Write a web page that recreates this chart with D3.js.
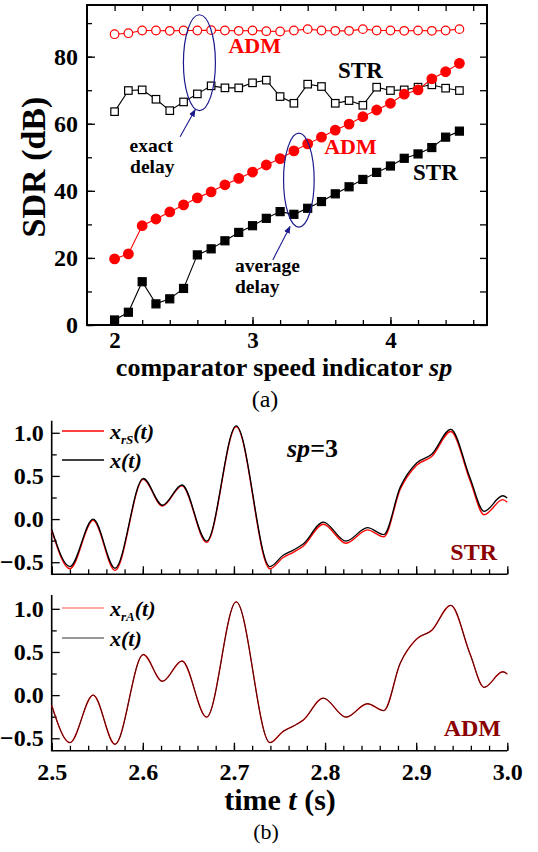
<!DOCTYPE html>
<html>
<head>
<meta charset="utf-8">
<script src="https://cdn.jsdelivr.net/npm/d3@7"></script>
<style>
    body { margin: 0; background: #fff; }
    svg { display: block; }
</style>
</head>
<body>
<svg id="fig" width="538" height="852"></svg>
<script>
// ---------- data, panel (a) ----------
const spVals = [2.0, 2.1, 2.2, 2.3, 2.4, 2.5, 2.6, 2.7, 2.8, 2.9, 3.0, 3.1, 3.2,
                3.3, 3.4, 3.5, 3.6, 3.7, 3.8, 3.9, 4.0, 4.1, 4.2, 4.3, 4.4, 4.5];
const admExact = [86.7, 87.0, 87.8, 87.8, 87.7, 87.8, 87.8, 87.9, 87.8, 87.7, 87.8, 87.6, 87.5,
                  87.8, 88.2, 87.8, 87.7, 87.7, 88.2, 87.8, 87.8, 87.7, 87.8, 87.7, 87.8, 88.2];
const strExact = [63.6, 69.9, 70.1, 67.3, 63.9, 66.5, 68.9, 71.3, 70.7, 70.7, 72.2, 73.0, 68.1,
                  66.1, 71.8, 71.1, 66.1, 66.9, 65.5, 70.9, 69.9, 70.1, 70.9, 71.6, 70.6, 69.9];
const admAvg = [19.7, 21.2, 29.6, 31.6, 33.7, 35.8, 37.9, 39.7, 41.8, 43.7, 45.6, 47.7, 49.6,
                51.9, 54.0, 56.0, 58.1, 59.9, 62.1, 64.1, 66.1, 68.8, 70.1, 73.4, 75.5, 78.0];
const strAvg = [1.5, 3.8, 12.9, 6.3, 7.8, 10.9, 20.9, 22.7, 25.1, 27.6, 29.6, 31.8, 33.8,
                33.0, 34.8, 36.8, 39.1, 41.2, 43.4, 45.5, 47.4, 49.7, 51.0, 52.9, 56.0, 57.8];
const sdrTicks = [0, 20, 40, 60, 80];
const spTicks = [2, 3, 4];

// ---------- data, panel (b) ----------
const tVals = [2.500, 2.520, 2.5455, 2.5695, 2.6005, 2.6215, 2.643, 2.670, 2.7025, 2.7395,
               2.754, 2.765, 2.776, 2.798, 2.823, 2.8465, 2.8645, 2.8825, 2.9005, 2.917,
               2.938, 2.959, 2.9745, 2.995, 3.000];
const xOrig = [-0.12, -0.55, 0.00, -0.57, 0.47, 0.16, 0.395, -0.255, 1.08, -0.55,
               -0.42, -0.36, -0.29, -0.035, -0.255, -0.10, -0.18, 0.37, 0.65, 0.75,
               1.04, 0.48, 0.09, 0.27, 0.245];
const xrS = [-0.13, -0.575, -0.015, -0.595, 0.46, 0.15, 0.385, -0.27, 1.07, -0.575,
             -0.445, -0.385, -0.315, -0.06, -0.28, -0.125, -0.205, 0.345, 0.625, 0.725,
             1.015, 0.45, 0.05, 0.225, 0.195];
const xrA = [-0.12, -0.55, 0.00, -0.57, 0.47, 0.16, 0.395, -0.255, 1.08, -0.55,
             -0.42, -0.36, -0.29, -0.035, -0.255, -0.10, -0.18, 0.37, 0.65, 0.75,
             1.04, 0.48, 0.09, 0.27, 0.245];
const timeTicks = [2.5, 2.6, 2.7, 2.8, 2.9, 3.0];
const ampTicks = [-0.5, 0.0, 0.5, 1.0];

const RED = '#ff0000', NAVY = '#1a1a8c', DARKRED = '#8b0000';
const SERIF = 'Liberation Serif';

const svg = d3.select('#fig').style('font-family', SERIF);

svg.append('defs').append('marker')
    .attr('id', 'arrow')
    .attr('viewBox', '0 0 10 10')
    .attr('refX', 9).attr('refY', 5)
    .attr('markerWidth', 7).attr('markerHeight', 7)
    .attr('orient', 'auto')
    .append('path')
    .attr('d', 'M0,1L10,5L0,9z')
    .attr('fill', NAVY);

// styles the text of an axis group
function styleAxis(g, size) {
    g.attr('font-family', null).attr('font-size', null);
    g.select('.domain').remove();
    g.selectAll('line').attr('stroke', '#000').attr('stroke-width', 1.3);
    g.selectAll('text')
        .style('font-family', SERIF)
        .style('font-size', size + 'px')
        .style('font-weight', 'bold')
        .attr('fill', '#000');
}

// ================= panel (a) =================
const xA = d3.scaleLinear().domain([1.8, 4.7]).range([87, 487]);
const yA = d3.scaleLinear().domain([0, 95.4]).range([325, 5]);

const minorSp = d3.range(2, 4.61, 0.2);
const minorSdr = d3.range(0, 91, 10);

// bottom
svg.append('g').attr('transform', 'translate(0,325)')
    .call(d3.axisBottom(xA).tickValues(minorSp).tickSize(-5).tickFormat(''))
    .call(g => styleAxis(g, 23));
svg.append('g').attr('transform', 'translate(0,325)')
    .call(d3.axisBottom(xA).tickValues(spTicks).tickSize(-8).tickPadding(7).tickFormat(d3.format('d')))
    .call(g => styleAxis(g, 23));
// top
svg.append('g').attr('transform', 'translate(0,5)')
    .call(d3.axisTop(xA).tickValues(minorSp).tickSize(-6).tickFormat(''))
    .call(g => styleAxis(g, 24));
// left
svg.append('g').attr('transform', 'translate(87,0)')
    .call(d3.axisLeft(yA).tickValues(minorSdr).tickSize(-5).tickFormat(''))
    .call(g => styleAxis(g, 24));
svg.append('g').attr('transform', 'translate(87,0)')
    .call(d3.axisLeft(yA).tickValues(sdrTicks).tickSize(-8).tickPadding(9).tickFormat(d3.format('d')))
    .call(g => styleAxis(g, 24));
// right
svg.append('g').attr('transform', 'translate(487,0)')
    .call(d3.axisRight(yA).tickValues(minorSdr).tickSize(-7).tickFormat(''))
    .call(g => styleAxis(g, 24));

svg.append('rect')
    .attr('x', 87).attr('y', 5)
    .attr('width', 400).attr('height', 320)
    .attr('fill', 'none').attr('stroke', '#000').attr('stroke-width', 2);

const lineA = d3.line().x((d, i) => xA(spVals[i])).y(d => yA(d));

function drawSeries(vals, color, shape, filled) {
    svg.append('path').datum(vals)
        .attr('d', lineA)
        .attr('fill', 'none').attr('stroke', color).attr('stroke-width', 1.1);
    const g = svg.append('g');
    if (shape === 'circle') {
        g.selectAll('circle').data(vals).join('circle')
            .attr('cx', (d, i) => xA(spVals[i]))
            .attr('cy', d => yA(d))
            .attr('r', filled ? 4.8 : 4.3)
            .attr('fill', filled ? color : '#fff')
            .attr('stroke', color).attr('stroke-width', 1.2);
    } else {
        const s = filled ? 8 : 7.5;
        g.selectAll('rect').data(vals).join('rect')
            .attr('x', (d, i) => xA(spVals[i]) - s / 2)
            .attr('y', d => yA(d) - s / 2)
            .attr('width', s).attr('height', s)
            .attr('fill', filled ? color : '#fff')
            .attr('stroke', color).attr('stroke-width', 1.2);
    }
}

drawSeries(admExact, RED, 'circle', false);
drawSeries(strExact, '#000', 'square', false);
drawSeries(admAvg, RED, 'circle', true);
drawSeries(strAvg, '#000', 'square', true);

// annotations
function noteA(txt, sp, v, color, size) {
    svg.append('text')
        .attr('x', xA(sp)).attr('y', yA(v))
        .style('font-size', size + 'px').style('font-weight', 'bold')
        .attr('fill', color)
        .text(txt);
}
noteA('ADM', 2.825, 81.1, RED, 22);
noteA('STR', 3.62, 73.6, '#000', 23);
noteA('ADM', 3.52, 51.0, RED, 22);
noteA('STR', 4.164, 43.2, '#000', 23);
noteA('exact', 2.109, 51.7, '#000', 19.5);
noteA('delay', 2.112, 45.4, '#000', 19.5);
noteA('average', 2.873, 15.8, '#000', 19.5);
noteA('delay', 2.873, 9.6, '#000', 19.5);

function ellipseA(sp, v, rsp, rv) {
    svg.append('ellipse')
        .attr('cx', xA(sp)).attr('cy', yA(v))
        .attr('rx', xA(sp + rsp) - xA(sp))
        .attr('ry', yA(v - rv) - yA(v))
        .attr('fill', 'none').attr('stroke', NAVY).attr('stroke-width', 1.2);
}
ellipseA(2.615, 78.2, 0.116, 14.3);
ellipseA(3.336, 43.2, 0.111, 14.0);

function arrowA(sp1, v1, sp2, v2) {
    svg.append('line')
        .attr('x1', xA(sp1)).attr('y1', yA(v1))
        .attr('x2', xA(sp2)).attr('y2', yA(v2))
        .attr('stroke', NAVY).attr('stroke-width', 1.1)
        .attr('marker-end', 'url(#arrow)');
}
arrowA(2.475, 56.1, 2.584, 64.2);
arrowA(3.147, 19.4, 3.272, 29.4);

// axis titles (a)
svg.append('text')
    .attr('transform', 'translate(45,167) rotate(-90)')
    .attr('text-anchor', 'middle')
    .style('font-size', '34px').style('font-weight', 'bold')
    .text('SDR (dB)');

const xTitleA = svg.append('text')
    .attr('x', 284).attr('y', 376)
    .attr('text-anchor', 'middle')
    .style('font-size', '26px').style('font-weight', 'bold');
xTitleA.append('tspan').text('comparator speed indicator ');
xTitleA.append('tspan').style('font-style', 'italic').text('sp');

svg.append('text')
    .attr('x', 265).attr('y', 407)
    .attr('text-anchor', 'middle')
    .style('font-size', '24px')
    .text('(a)');

// ================= panel (b) =================
const xB = d3.scaleLinear().domain([2.5, 3.0]).range([51.7, 507.3]);
const minorT = d3.range(2.5, 3.0001, 0.02);
const minorAmp = [-0.25, 0.25, 0.75];

function signalPanel(yDomain, yRange, showLabels) {
    const y = d3.scaleLinear().domain(yDomain).range(yRange);
    const bottom = yRange[0];

    svg.append('g').attr('transform', `translate(0,${bottom})`)
        .call(d3.axisBottom(xB).tickValues(minorT).tickSize(-5).tickFormat(''))
        .call(g => styleAxis(g, 24));
    svg.append('g').attr('transform', `translate(0,${bottom})`)
        .call(d3.axisBottom(xB).tickValues(timeTicks).tickSize(-8).tickPadding(12)
            .tickFormat(showLabels ? d3.format('.1f') : ''))
        .call(g => styleAxis(g, 24));
    svg.append('g').attr('transform', 'translate(51.7,0)')
        .call(d3.axisLeft(y).tickValues(minorAmp).tickSize(-5).tickFormat(''))
        .call(g => styleAxis(g, 24));
    svg.append('g').attr('transform', 'translate(51.7,0)')
        .call(d3.axisLeft(y).tickValues(ampTicks).tickSize(-8).tickPadding(8).tickFormat(d3.format('.1f')))
        .call(g => styleAxis(g, 24));

    svg.append('path')
        .attr('d', `M51.7,${yRange[1]}V${bottom}H507.3`)
        .attr('fill', 'none').attr('stroke', '#000').attr('stroke-width', 1.6);
    return y;
}

function drawSignal(y, vals, color, width) {
    const line = d3.line()
        .x((d, i) => xB(tVals[i]))
        .y(d => y(d))
        .curve(d3.curveMonotoneX);
    svg.append('path').datum(vals)
        .attr('d', line)
        .attr('fill', 'none').attr('stroke', color).attr('stroke-width', width);
}

function legendEntry(x0, y0, color, width, sub) {
    svg.append('line')
        .attr('x1', x0).attr('x2', x0 + 42)
        .attr('y1', y0).attr('y2', y0)
        .attr('stroke', color).attr('stroke-width', width);
    const t = svg.append('text')
        .attr('x', x0 + 48).attr('y', y0 + 8)
        .style('font-size', '22px').style('font-weight', 'bold').style('font-style', 'italic');
    t.append('tspan').text('x');
    if (sub) {
        t.append('tspan').style('font-size', '13px').attr('dy', 5).text(sub);
        t.append('tspan').attr('dy', -5).text('(t)');
    } else {
        t.append('tspan').text('(t)');
    }
}

// STR panel
const y1 = signalPanel([-0.64, 1.14], [574.3, 420.7], false);
drawSignal(y1, xrS, RED, 1.4);
drawSignal(y1, xOrig, '#000', 1.3);
legendEntry(62, 431, RED, 1.4, 'rS');
legendEntry(62, 460, '#000', 1.3, null);

const spLabel = svg.append('text')
    .attr('x', 287).attr('y', 457)
    .style('font-size', '26px').style('font-weight', 'bold');
spLabel.append('tspan').style('font-style', 'italic').text('sp');
spLabel.append('tspan').text('=3');

svg.append('text')
    .attr('x', 497).attr('y', 560)
    .attr('text-anchor', 'end')
    .style('font-size', '24px').style('font-weight', 'bold')
    .attr('fill', DARKRED)
    .text('STR');

// ADM panel
const y2 = signalPanel([-0.644, 1.16], [750.7, 595], true);
drawSignal(y2, xrA, RED, 1.4);
drawSignal(y2, xOrig, '#3a1010', 1.0);
legendEntry(62, 608, '#ff5050', 1.2, 'rA');
legendEntry(62, 638, '#333', 1.0, null);

svg.append('text')
    .attr('x', 501).attr('y', 736)
    .attr('text-anchor', 'end')
    .style('font-size', '24px').style('font-weight', 'bold')
    .attr('fill', DARKRED)
    .text('ADM');

const xTitleB = svg.append('text')
    .attr('x', 280).attr('y', 810)
    .attr('text-anchor', 'middle')
    .style('font-size', '30px').style('font-weight', 'bold');
xTitleB.append('tspan').text('time ');
xTitleB.append('tspan').style('font-style', 'italic').text('t');
xTitleB.append('tspan').text(' (s)');

svg.append('text')
    .attr('x', 266).attr('y', 839)
    .attr('text-anchor', 'middle')
    .style('font-size', '22px')
    .text('(b)');
</script>
</body>
</html>
